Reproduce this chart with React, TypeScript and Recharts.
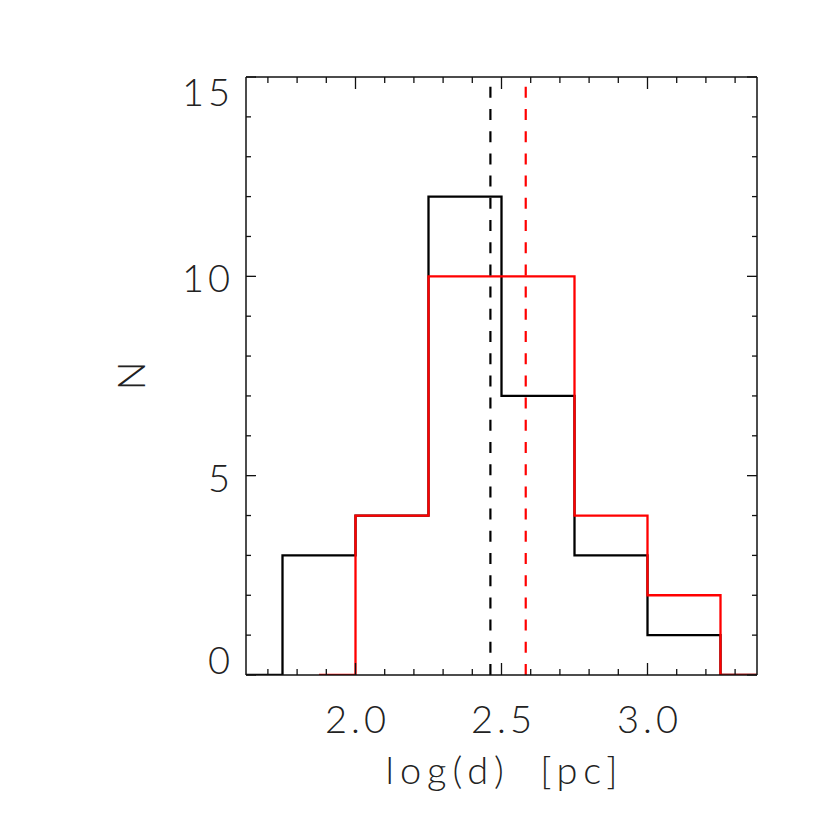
import { LineChart, Line, XAxis, YAxis, ReferenceLine } from "recharts"

// histogram bins (IDL psym=10 style: steps start/end at first/last bin centre)
const blackCenters = [1.625, 1.875, 2.125, 2.375, 2.625, 2.875, 3.125, 3.375]
const blackCounts = [0, 3, 4, 12, 7, 3, 1, 0]
const redCenters = [1.875, 2.125, 2.375, 2.625, 2.875, 3.125, 3.375]
const redCounts = [0, 4, 10, 10, 4, 2, 0]
const binWidth = 0.25

const blackMedian = 2.462
const redMedian = 2.583

const xDomain = [1.625, 3.375]
const xTicks = [1.7, 1.8, 1.9, 2.0, 2.1, 2.2, 2.3, 2.4, 2.5, 2.6, 2.7, 2.8, 2.9, 3.0, 3.1, 3.2, 3.3]
const yDomain = [0, 15]
const yTicks = [0, 1, 2, 3, 4, 5, 6, 7, 8, 9, 10, 11, 12, 13, 14, 15]

const FONT = "Lato, 'DejaVu Sans', sans-serif"
const AXIS = "#111"
const TEXT = "#222"
const LS = 4

function histSteps(centers: number[], counts: number[]) {
  const pts = counts.map((n, i) => ({
    x: i === 0 ? centers[0] : centers[i] - binWidth / 2,
    y: n,
  }))
  pts.push({ x: centers[centers.length - 1], y: counts[counts.length - 1] })
  return pts
}

const blackSteps = histSteps(blackCenters, blackCounts)
const redSteps = histSteps(redCenters, redCounts)

function isMultiple(v: number, step: number) {
  return Math.abs(v / step - Math.round(v / step)) < 1e-6
}

type Side = "bottom" | "top" | "left" | "right"

function AxisTick(props: any) {
  const { x, y, payload, side } = props as { x: number; y: number; payload: { value: number }; side: Side }
  const v = payload.value
  if (side === "bottom" || side === "top") {
    const major = isMultiple(v, 0.5)
    const len = major ? 12 : 6
    const dir = side === "bottom" ? -1 : 1
    return (
      <g>
        <line x1={x} y1={y} x2={x} y2={y + dir * len} stroke={AXIS} strokeWidth={1.3} />
        {side === "bottom" && major && (
          <text
            x={x + LS / 2}
            y={y + 58}
            textAnchor="middle"
            fontFamily={FONT}
            fontWeight={300}
            fontSize={38}
            letterSpacing={LS}
            fill={TEXT}
          >
            {v.toFixed(1)}
          </text>
        )}
      </g>
    )
  }
  const major = isMultiple(v, 5)
  const len = major ? 10 : 5
  const dir = side === "left" ? 1 : -1
  let base = y + 16
  if (v === yDomain[1]) base = y + 28.5
  if (v === yDomain[0]) base = y - 1.5
  return (
    <g>
      <line x1={x} y1={y} x2={x + dir * len} y2={y} stroke={AXIS} strokeWidth={1.3} />
      {side === "left" && major && (
        <text
          x={x - 16 + LS}
          y={base}
          textAnchor="end"
          fontFamily={FONT}
          fontWeight={300}
          fontSize={38}
          letterSpacing={LS}
          fill={TEXT}
        >
          {v}
        </text>
      )}
    </g>
  )
}

export default function App() {
  return (
    <div style={{ position: "absolute", left: 0, top: 0, width: 830, height: 830, background: "#fff" }}>
      <LineChart width={830} height={830} margin={{ top: 76, right: 72, bottom: 95, left: 186 }}>
        <XAxis
          xAxisId="b"
          type="number"
          dataKey="x"
          domain={xDomain}
          allowDataOverflow
          ticks={xTicks}
          interval={0}
          height={60}
          tickSize={0}
          tickMargin={0}
          tickLine={false}
          axisLine={{ stroke: AXIS, strokeWidth: 1.5 }}
          tick={(p: any) => <AxisTick {...p} side="bottom" />}
          label={{
            content: (p: any) => {
              const vb = p.viewBox
              return (
                <text
                  x={vb.x + vb.width / 2 + 3}
                  y={vb.y + 108.6}
                  textAnchor="middle"
                  fontFamily={FONT}
                  fontWeight={300}
                  fontSize={38}
                  letterSpacing={6}
                  wordSpacing={14}
                  fill={TEXT}
                >
                  log(d) [pc]
                </text>
              )
            },
          }}
        />
        <XAxis
          xAxisId="t"
          orientation="top"
          type="number"
          dataKey="x"
          domain={xDomain}
          allowDataOverflow
          ticks={xTicks}
          interval={0}
          height={1}
          tickSize={0}
          tickMargin={0}
          tickLine={false}
          axisLine={{ stroke: AXIS, strokeWidth: 1.5 }}
          tick={(p: any) => <AxisTick {...p} side="top" />}
        />
        <YAxis
          yAxisId="l"
          type="number"
          domain={yDomain}
          allowDataOverflow
          ticks={yTicks}
          interval={0}
          width={60}
          tickSize={0}
          tickMargin={0}
          tickLine={false}
          axisLine={{ stroke: AXIS, strokeWidth: 1.5 }}
          tick={(p: any) => <AxisTick {...p} side="left" />}
          label={{
            content: (p: any) => {
              const vb = p.viewBox
              const cy = vb.y + vb.height / 2
              return (
                <text
                  x={145}
                  y={cy}
                  transform={`rotate(-90 145 ${cy})`}
                  textAnchor="middle"
                  fontFamily={FONT}
                  fontWeight={300}
                  fontSize={38}
                  fill={TEXT}
                >
                  N
                </text>
              )
            },
          }}
        />
        <YAxis
          yAxisId="r"
          orientation="right"
          type="number"
          domain={yDomain}
          allowDataOverflow
          ticks={yTicks}
          interval={0}
          width={1}
          tickSize={0}
          tickMargin={0}
          tickLine={false}
          axisLine={{ stroke: AXIS, strokeWidth: 1.5 }}
          tick={(p: any) => <AxisTick {...p} side="right" />}
        />
        <Line
          xAxisId="b"
          yAxisId="l"
          data={blackSteps}
          dataKey="y"
          type="stepAfter"
          stroke="#000"
          strokeWidth={2.3}
          dot={false}
          activeDot={false}
          isAnimationActive={false}
        />
        <Line
          xAxisId="b"
          yAxisId="l"
          data={redSteps}
          dataKey="y"
          type="stepAfter"
          stroke="#ff0000"
          strokeWidth={2.3}
          dot={false}
          activeDot={false}
          isAnimationActive={false}
        />
        <ReferenceLine
          xAxisId="b"
          yAxisId="l"
          x={blackMedian}
          stroke="#000"
          strokeWidth={2.2}
          strokeDasharray="11 11.2"
        />
        <ReferenceLine
          xAxisId="b"
          yAxisId="l"
          x={redMedian}
          stroke="#ff0000"
          strokeWidth={2.2}
          strokeDasharray="11 11.2"
        />
      </LineChart>
    </div>
  )
}
